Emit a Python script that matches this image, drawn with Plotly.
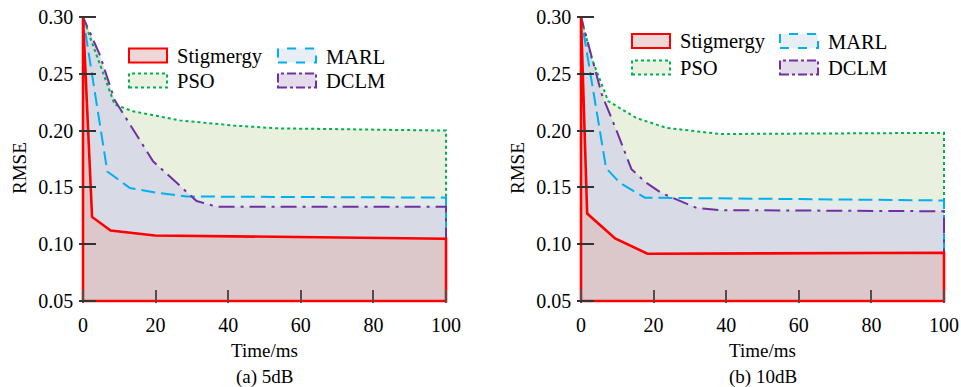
import plotly.graph_objects as go

# ---------------- data ----------------
series_names = ["PSO", "MARL", "DCLM", "Stigmergy"]

# (a) 5dB
pso_5_x = [0, 2.3, 8.7, 13.8, 20.2, 26.7, 41.4, 53.3, 100]
pso_5_y = [0.300, 0.279, 0.223, 0.217, 0.2127, 0.209, 0.2045, 0.202, 0.200]
marl_5_x = [0, 6.7, 12.9, 20, 28.5, 100]
marl_5_y = [0.300, 0.164, 0.1495, 0.1455, 0.142, 0.141]
dclm_5_x = [0, 4.6, 8.7, 19.3, 24.8, 31.3, 36.8, 100]
dclm_5_y = [0.300, 0.267, 0.227, 0.173, 0.157, 0.138, 0.133, 0.133]
stig_5_x = [0, 2.5, 7.6, 19.8, 100]
stig_5_y = [0.300, 0.124, 0.112, 0.1077, 0.1048]

# (b) 10dB
pso_10_x = [0, 2.9, 7.5, 15.3, 23.6, 38.3, 100]
pso_10_y = [0.300, 0.264, 0.226, 0.211, 0.2024, 0.197, 0.198]
marl_10_x = [0, 6.9, 10.7, 17.6, 100]
marl_10_y = [0.300, 0.167, 0.154, 0.141, 0.1385]
dclm_10_x = [0, 5.7, 9.8, 13.9, 18, 22.2, 31.8, 38.3, 100]
dclm_10_y = [0.300, 0.232, 0.200, 0.166, 0.154, 0.145, 0.132, 0.130, 0.129]
stig_10_x = [0, 1.7, 9.4, 18.3, 100]
stig_10_y = [0.300, 0.127, 0.105, 0.0916, 0.0925]

x_ticks = [0, 20, 40, 60, 80, 100]
y_ticks = [0.05, 0.10, 0.15, 0.20, 0.25, 0.30]
y_min = 0.05

panel_titles = ["(a) 5dB", "(b) 10dB"]
x_title = "Time/ms"
y_title = "RMSE"

# ---------------- styles ----------------
FONT = "Liberation Serif"
W, H = 961, 387
line_style = {
    "PSO": dict(color="#00b050", width=2, dash="3px,3px"),
    "MARL": dict(color="#00b0f0", width=2, dash="14px,6px"),
    "DCLM": dict(color="#7030a0", width=2, dash="16px,6px,3px,6px"),
    "Stigmergy": dict(color="#ff0000", width=2.6, dash="solid"),
}
area_fill = {
    "PSO": "rgb(233,240,222)",
    "MARL": "rgb(226,234,234)",
    "DCLM": "rgb(216,218,230)",
    "Stigmergy": "rgb(220,200,202)",
}
swatch_fill = {
    "PSO": "rgb(235,242,225)",
    "MARL": "rgb(232,238,245)",
    "DCLM": "rgb(228,220,235)",
    "Stigmergy": "rgb(240,215,215)",
}
shape_dash = {"PSO": "dot", "MARL": "dash", "DCLM": "dashdot", "Stigmergy": "solid"}


def px(x):
    return x / W


def py(y):
    return 1 - y / H


panels = [
    dict(data={"PSO": (pso_5_x, pso_5_y), "MARL": (marl_5_x, marl_5_y),
               "DCLM": (dclm_5_x, dclm_5_y), "Stigmergy": (stig_5_x, stig_5_y)},
         x0=83, x1=446, leg_x=129, leg_x2=278, leg_y=48.5, leg_dy=25),
    dict(data={"PSO": (pso_10_x, pso_10_y), "MARL": (marl_10_x, marl_10_y),
               "DCLM": (dclm_10_x, dclm_10_y), "Stigmergy": (stig_10_x, stig_10_y)},
         x0=581, x1=944, leg_x=632, leg_x2=780, leg_y=34, leg_dy=26.5),
]

Y_TOP, Y_BOT = 17, 301  # pixel rows of 0.30 and 0.05
ypu = (Y_BOT - Y_TOP) / 0.25
yr = [0.048, 0.302]
ydom = [py(Y_BOT + (0.05 - yr[0]) * ypu), py(Y_TOP - (yr[1] - 0.30) * ypu)]
xr = [-1, 101]

fig = go.Figure()
shapes = []
annotations = []

for i, p in enumerate(panels):
    xa = "x" if i == 0 else "x2"
    ya = "y" if i == 0 else "y2"
    # fills first
    for name in series_names:
        xs, ys = p["data"][name]
        fig.add_trace(go.Scatter(
            x=[xs[0]] + list(xs) + [xs[-1], xs[0]],
            y=[y_min] + list(ys) + [y_min, y_min],
            fill="toself", fillcolor=area_fill[name], mode="lines",
            line=dict(width=0), hoverinfo="skip", showlegend=False,
            xaxis=xa, yaxis=ya))
    # then lines
    for name in series_names:
        xs, ys = p["data"][name]
        fig.add_trace(go.Scatter(
            x=[xs[0]] + list(xs) + [xs[-1], xs[0]],
            y=[y_min] + list(ys) + [y_min, y_min],
            mode="lines", line=line_style[name], name=name,
            showlegend=False, xaxis=xa, yaxis=ya))

    xpu = (p["x1"] - p["x0"]) / 100
    dom = [px(p["x0"] + xr[0] * xpu), px(p["x0"] + xr[1] * xpu)]
    axis_common = dict(showgrid=False, zeroline=False, showline=False, automargin=False,
                       ticklabeloverflow="allow")
    fig.layout[("xaxis" if i == 0 else "xaxis2")] = dict(
        domain=dom, range=xr, anchor=ya, tickvals=x_ticks, ticks="inside",
        ticklen=13, tickwidth=2, tickcolor="#5a4a4a", ticklabelstandoff=8,
        tickfont=dict(family=FONT, size=20, color="black"), **axis_common)
    fig.layout[("yaxis" if i == 0 else "yaxis2")] = dict(
        domain=ydom, range=yr, anchor=xa, tickvals=y_ticks, tickformat=".2f",
        ticks="inside", ticklen=17, tickwidth=2, tickcolor="#333333",
        ticklabelstandoff=5,
        tickfont=dict(family=FONT, size=20, color="black"), **axis_common)

    cx = (p["x0"] + p["x1"]) / 2
    annotations.append(dict(text=x_title, x=px(cx), y=py(350), xref="paper", yref="paper",
                            showarrow=False, font=dict(family=FONT, size=19, color="black"),
                            xanchor="center", yanchor="middle"))
    annotations.append(dict(text=panel_titles[i], x=px(cx), y=py(377), xref="paper", yref="paper",
                            showarrow=False, font=dict(family=FONT, size=19, color="black"),
                            xanchor="center", yanchor="middle"))
    annotations.append(dict(text=y_title, x=px(p["x0"] - 64), y=py(168), xref="paper",
                            yref="paper", showarrow=False, textangle=-90,
                            font=dict(family=FONT, size=19, color="black"),
                            xanchor="center", yanchor="middle"))

    # manual legend
    leg_items = [("Stigmergy", p["leg_x"], 0), ("MARL", p["leg_x2"], 0),
                 ("PSO", p["leg_x"], 1), ("DCLM", p["leg_x2"], 1)]
    for name, lx, row in leg_items:
        top = p["leg_y"] + row * p["leg_dy"]
        shapes.append(dict(type="rect", xref="paper", yref="paper",
                           x0=px(lx), x1=px(lx + 38), y0=py(top + 14), y1=py(top),
                           fillcolor=swatch_fill[name],
                           line=dict(color=line_style[name]["color"], width=2,
                                     dash=shape_dash[name])))
        annotations.append(dict(text=name, x=px(lx + 46), y=py(top + 8), xref="paper",
                                yref="paper", showarrow=False, xanchor="left",
                                yanchor="middle",
                                font=dict(family=FONT, size=20.5, color="black")))

fig.update_layout(
    width=W, height=H, margin=dict(l=0, r=0, t=0, b=0, autoexpand=False),
    paper_bgcolor="white", plot_bgcolor="white",
    shapes=shapes, annotations=annotations, showlegend=False,
    font=dict(family=FONT),
)

# remove the browser's default 8px body margin so the 961x387 figure fills the window
fig.write_html(
    "out.html",
    config={"displayModeBar": False},
    post_script="document.body.style.margin='0';document.body.style.overflow='hidden';",
)
